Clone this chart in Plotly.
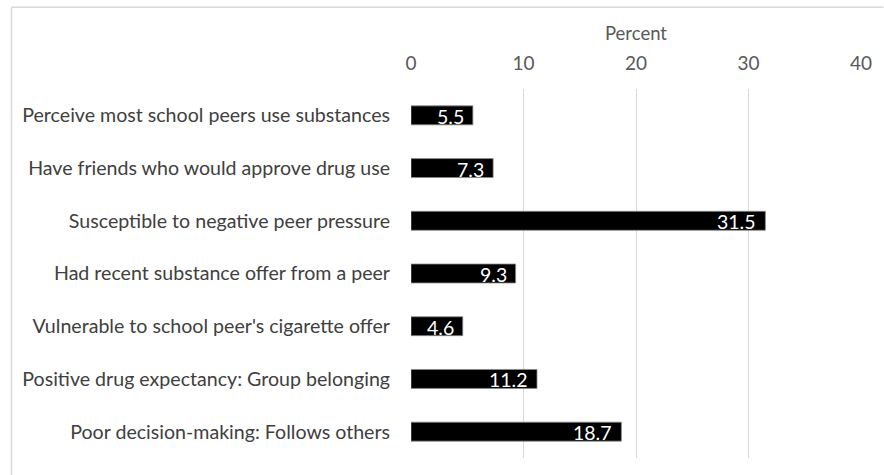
import plotly.graph_objects as go

# Peer-related risk factors and their prevalence (%)
categories = [
    "Perceive most school peers use substances",
    "Have friends who would approve drug use",
    "Susceptible to negative peer pressure",
    "Had recent substance offer from a peer",
    "Vulnerable to school peer's cigarette offer",
    "Positive drug expectancy: Group belonging",
    "Poor decision-making: Follows others",
]
percent = [5.5, 7.3, 31.5, 9.3, 4.6, 11.2, 18.7]
x_ticks = [0, 10, 20, 30, 40]

FONT = "Lato"

fig = go.Figure(
    go.Bar(
        x=percent,
        y=categories,
        orientation="h",
        marker=dict(color="#000000", line=dict(color="#8c8c8c", width=0.8)),
        hoverinfo="x+y",
    )
)

# value labels inside the bar ends
for cat, v in zip(categories, percent):
    fig.add_annotation(
        x=v, y=cat, xref="x", yref="y",
        text=f"{v:.1f}", showarrow=False,
        xanchor="right", xshift=-7, yshift=-1,
        font=dict(family=FONT, size=19.5, color="#ffffff"),
    )

fig.update_layout(
    width=884,
    height=475,
    margin=dict(l=411, r=18, t=89, b=17),
    paper_bgcolor="#ffffff",
    plot_bgcolor="#ffffff",
    bargap=0.64,
    showlegend=False,
    font=dict(family=FONT, color="#595959"),
    xaxis=dict(
        side="top",
        range=[0, 40],
        tickvals=x_ticks,
        ticktext=[str(t) for t in x_ticks],
        tickfont=dict(size=19, color="#595959"),
        ticklabelstandoff=14,
        showgrid=True,
        gridcolor="#d9d9d9",
        gridwidth=1,
        zeroline=False,
        showline=False,
        ticks="",
        title=dict(text="Percent", font=dict(size=18.5, color="#595959"), standoff=5),
        fixedrange=True,
    ),
    yaxis=dict(
        categoryorder="array",
        categoryarray=categories[::-1],
        tickfont=dict(size=19.6, color="#404040"),
        ticks="",
        ticklabelstandoff=20,
        showgrid=False,
        zeroline=False,
        showline=False,
        fixedrange=True,
    ),
    shapes=[
        # chart frame (left and top edges)
        dict(type="line", xref="paper", yref="paper", x0=-403.5 / 454.5, x1=1.05,
             y0=(457.8 - 8) / 368.3, y1=(457.8 - 8) / 368.3,
             line=dict(color="#d9d9d9", width=1.5)),
        dict(type="line", xref="paper", yref="paper", x0=-403.5 / 454.5, x1=-403.5 / 454.5,
             y0=(457.8 - 8) / 368.3, y1=-0.1,
             line=dict(color="#d9d9d9", width=1.5)),
    ],
)

fig.write_html("out.html")
